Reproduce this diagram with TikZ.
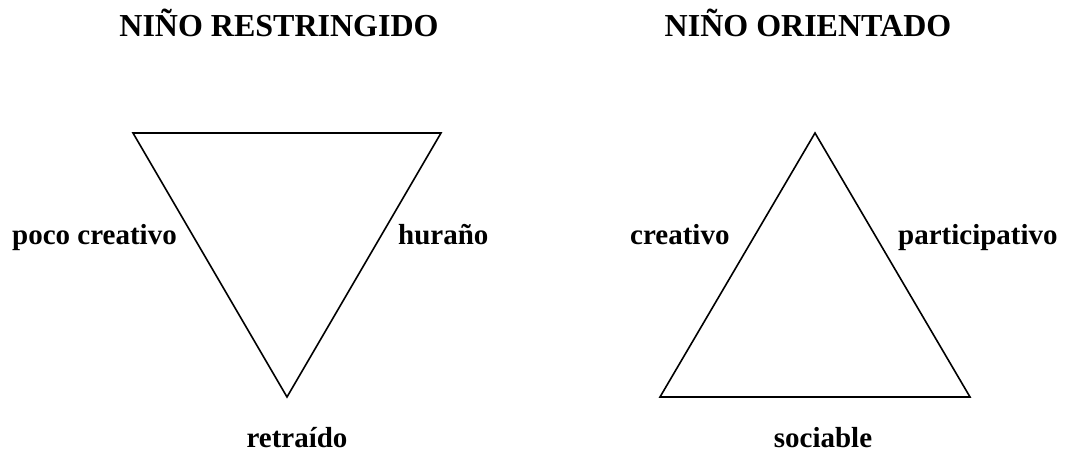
\documentclass[tikz,border=0pt]{standalone}
\usepackage{fontspec}
\setmainfont{Liberation Serif}
\begin{document}
\begin{tikzpicture}[x=1pt,y=-1pt,
  title/.style={font=\fontsize{32}{36}\selectfont\bfseries, inner sep=0pt},
  lbl/.style={font=\fontsize{29}{34}\selectfont\bfseries, inner sep=0pt},
  tri/.style={draw=black, line width=1.6pt, line join=miter}]
\useasboundingbox (0,0) rectangle (1065,454);
% titles
\node[title, anchor=base] (t1) at (279,37) {NIÑO RESTRINGIDO};
\node[title, anchor=base] (t2) at (808,37) {NIÑO ORIENTADO};
% left triangle
\coordinate (a1) at (133,133);
\coordinate (b1) at (441,133);
\coordinate (c1) at (287,397);
\draw[tri] (a1) -- (b1) -- (c1) -- cycle;
% right triangle
\coordinate (a2) at (815,133);
\coordinate (b2) at (970,397);
\coordinate (c2) at (660,397);
\draw[tri] (a2) -- (b2) -- (c2) -- cycle;
% labels
\node[lbl, anchor=base west] (l1) at (12,245) {poco creativo};
\node[lbl, anchor=base west] (l2) at (398,245) {huraño};
\node[lbl, anchor=base] (l3) at (297,447) {retraído};
\node[lbl, anchor=base west] (l4) at (630,245) {creativo};
\node[lbl, anchor=base west] (l5) at (898,245) {participativo};
\node[lbl, anchor=base] (l6) at (823,447) {sociable};
\end{tikzpicture}
\end{document}
